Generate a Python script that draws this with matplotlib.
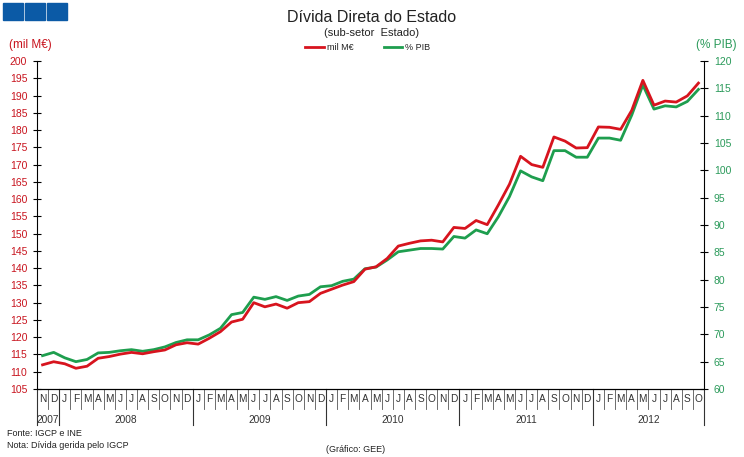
import matplotlib
matplotlib.use("Agg")
import matplotlib.pyplot as plt
import matplotlib.patches as mpatches
import numpy as np

plt.rcParams['font.family'] = ['Liberation Sans', 'DejaVu Sans']

# months Nov 2007 .. Oct 2012
month_letters = ['N', 'D'] + ['J', 'F', 'M', 'A', 'M', 'J', 'J', 'A', 'S', 'O', 'N', 'D'] * 4 + \
                ['J', 'F', 'M', 'A', 'M', 'J', 'J', 'A', 'S', 'O']
years = ['2007', '2008', '2009', '2010', '2011', '2012']
months_per_year = [2, 12, 12, 12, 12, 10]

divida = [112.0, 112.9,
          112.3, 111.0, 111.6, 113.9, 114.4, 115.1, 115.6, 115.2, 115.8, 116.3, 117.8, 118.4,
          118.0, 119.7, 121.6, 124.4, 125.2, 130.0, 128.8, 129.6, 128.4, 130.0, 130.3, 132.7,
          133.9, 135.1, 136.1, 139.7, 140.4, 142.8, 146.4, 147.2, 147.9, 148.1, 147.6, 151.8,
          151.5, 153.8, 152.6, 158.3, 164.3, 172.4, 170.0, 169.2, 178.0, 176.8, 174.8, 174.9,
          180.9, 180.8, 180.2, 185.7, 194.4, 187.2, 188.4, 188.1, 189.9, 193.6]
pib = [66.1, 66.7,
       65.7, 65.0, 65.4, 66.6, 66.7, 67.0, 67.2, 66.9, 67.2, 67.7, 68.5, 69.0,
       69.0, 69.9, 71.1, 73.6, 74.0, 76.8, 76.4, 76.9, 76.2, 77.0, 77.3, 78.7,
       78.9, 79.7, 80.1, 82.0, 82.3, 83.6, 85.1, 85.4, 85.7, 85.7, 85.6, 87.9,
       87.6, 89.1, 88.4, 91.5, 95.2, 99.9, 98.8, 98.1, 103.6, 103.6, 102.4, 102.4,
       105.9, 105.9, 105.5, 110.1, 115.6, 111.2, 111.8, 111.6, 112.6, 114.8]

red = '#d7141e'
green = '#1e9e4e'
red_txt = '#c8141e'
green_txt = '#2a9a5a'

n = len(divida)
x = np.arange(n) + 0.5

fig = plt.figure(figsize=(7.44, 4.57), dpi=100)
ax = fig.add_axes([37/744, 1 - 389/457, (704-37)/744, 328/457])
ax2 = ax.twinx()

ax2.plot(x, pib, color=green, lw=2.0, zorder=2)
ax.plot(x, divida, color=red, lw=2.0, zorder=3)
ax.set_zorder(ax2.get_zorder() + 1)
ax.patch.set_visible(False)

ax.set_xlim(0, n)
ax.set_ylim(105, 200)
ax2.set_ylim(60, 120)
ax.set_yticks(np.arange(105, 201, 5))
ax2.set_yticks(np.arange(60, 121, 5))

for a in (ax, ax2):
    a.spines['top'].set_visible(False)
    for s in a.spines.values():
        s.set_linewidth(0.8)
    a.set_xticks([])
ax.spines['right'].set_visible(False)
ax2.spines['left'].set_visible(False)
ax.tick_params(axis='y', direction='inout', length=6, width=0.8, labelsize=7.5,
               labelcolor=red_txt, pad=4)
ax2.tick_params(axis='y', direction='inout', length=6, width=0.8, labelsize=7.5,
                labelcolor=green_txt, pad=4)

# month cells
trans = ax.get_xaxis_transform()
for i in range(n):
    ax.text(i + 0.5, -0.031, month_letters[i], transform=trans, ha='center', va='center',
            fontsize=7.3, color='#333333')
    if i > 0:
        ax.plot([i, i], [0, -0.06], transform=trans, color='#555555', lw=0.6, clip_on=False)

# year cells
start = 0
bounds = [0]
for y, m in zip(years, months_per_year):
    ax.text(start + m / 2, -0.094, y, transform=trans, ha='center', va='center',
            fontsize=7.3, color='#333333')
    start += m
    bounds.append(start)
for b in bounds:
    ax.plot([b, b], [0, -0.11], transform=trans, color='#333333', lw=0.8, clip_on=False)

# titles and labels
fig.text(0.5, 1 - 17/457, 'Dívida Direta do Estado', ha='center', va='center', fontsize=11.5,
         color='#222222')
fig.text(0.5, 1 - 33/457, '(sub-setor  Estado)', ha='center', va='center', fontsize=8,
         color='#222222')
fig.text(30/744, 1 - 45/457, '(mil M€)', ha='center', va='center', fontsize=8.5, color=red_txt)
fig.text(716/744, 1 - 45/457, '(% PIB)', ha='center', va='center', fontsize=8.5, color=green_txt)

# legend
ly = 1 - 47/457
fig.add_artist(plt.Line2D([305/744, 324/744], [ly, ly], color=red, lw=2))
fig.text(327/744, ly, 'mil M€', ha='left', va='center', fontsize=6.5, color='#222222')
fig.add_artist(plt.Line2D([384/744, 402/744], [ly, ly], color=green, lw=2))
fig.text(405/744, ly, '% PIB', ha='left', va='center', fontsize=6.5, color='#222222')

# logo squares
for lx in (3, 25, 47):
    fig.add_artist(mpatches.Rectangle((lx/744, 1 - 20/457), 20/744, 17/457,
                                      transform=fig.transFigure, color='#0b5aa6'))

fig.text(7/744, 1 - 434/457, 'Fonte: IGCP e INE', ha='left', va='center', fontsize=6.5,
         color='#222222')
fig.text(7/744, 1 - 446/457, 'Nota: Dívida gerida pelo IGCP', ha='left', va='center',
         fontsize=6.5, color='#222222')
fig.text(356/744, 1 - 450/457, '(Gráfico: GEE)', ha='center', va='center', fontsize=6.5,
         color='#222222')

fig.savefig('out.png', dpi=100)
